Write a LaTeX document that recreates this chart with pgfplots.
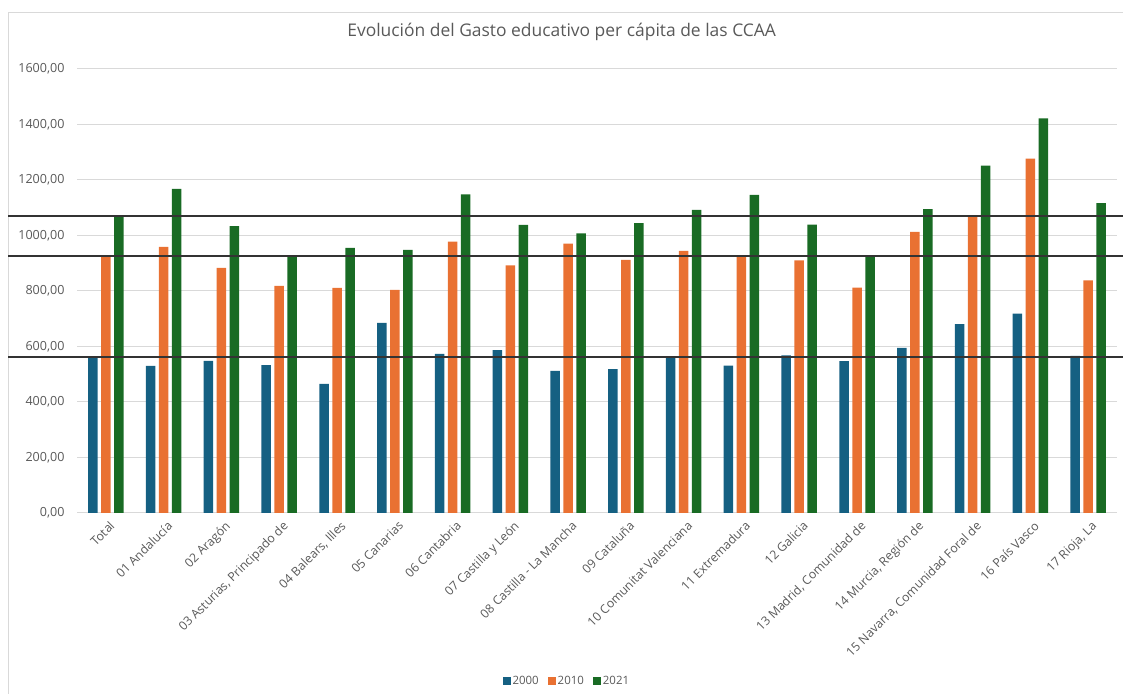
\documentclass[border=0pt]{standalone}
\usepackage{pgfplots}
\pgfplotsset{compat=1.18}
\usepackage{fontspec}
\setmainfont{Open Sans}

\definecolor{c2000}{HTML}{156082}
\definecolor{c2010}{HTML}{E97132}
\definecolor{c2021}{HTML}{196B24}
\definecolor{txt}{HTML}{595959}
\definecolor{grd}{HTML}{D9D9D9}

\begin{document}
\begin{tikzpicture}[x=1bp,y=1bp]
\path[use as bounding box] (0,0) rectangle (1123,694);
\draw[grd, line width=1bp] (8,0) -- (8,681) -- (1123,681);
\begin{axis}[
    at={(77bp,181bp)}, anchor=south west,
    scale only axis, width=1040bp, height=444bp,
    ybar=3.5bp, bar width=9.5bp,
    ymin=0, ymax=1600,
    ytick={0,200,...,1600},
    xmin=-0.5, xmax=17.5,
    xtick={0,...,17},
    xticklabels={Total, 01 Andalucía, 02 Aragón, {03 Asturias, Principado de}, {04 Balears, Illes}, 05 Canarias, 06 Cantabria, 07 Castilla y León, 08 Castilla - La Mancha, 09 Cataluña, 10 Comunitat Valenciana, 11 Extremadura, 12 Galicia, {13 Madrid, Comunidad de}, {14 Murcia, Región de}, {15 Navarra, Comunidad Foral de}, 16 País Vasco, {17 Rioja, La}},
    xticklabel style={rotate=45, anchor=north east, font=\fontsize{12.3}{14}\selectfont, text=txt, inner sep=1bp, xshift=1bp, yshift=-3bp},
    yticklabel style={font=\fontsize{12.6}{14}\selectfont, text=txt, xshift=-9bp},
    /pgf/number format/.cd, fixed, fixed zerofill, precision=2, use comma, 1000 sep={}, assume math mode=true,
    /pgfplots/.cd,
    ymajorgrids, grid style={grd, line width=1bp},
    axis line style={draw=none}, tick style={draw=none},
    clip=false,
    title={Evolución del Gasto educativo per cápita de las CCAA},
    title style={at={(0.466,1)}, anchor=center, yshift=31bp, font=\fontsize{17.5}{20}\selectfont, text=txt},
    legend style={at={(0.471,-0.378)}, anchor=center, draw=none, fill=none, legend columns=3,
        font=\fontsize{11.5}{13}\selectfont, text=txt,
        /tikz/every even column/.append style={column sep=7bp}},
    legend image code/.code={\fill (0bp,-4bp) rectangle (8bp,4bp);},
]
\addplot[fill=c2000, draw=none] coordinates {
(0,562) (1,530) (2,548) (3,533) (4,465) (5,685) (6,573) (7,587) (8,512) (9,518)
(10,563) (11,531) (12,568) (13,547) (14,595) (15,681) (16,718) (17,566)};
\addplot[fill=c2010, draw=none] coordinates {
(0,926) (1,959) (2,883) (3,818) (4,811) (5,804) (6,978) (7,892) (8,971) (9,912)
(10,945) (11,926) (12,910) (13,812) (14,1013) (15,1067) (16,1277) (17,838)};
\addplot[fill=c2021, draw=none] coordinates {
(0,1070) (1,1168) (2,1034) (3,926) (4,955) (5,948) (6,1148) (7,1038) (8,1008) (9,1045)
(10,1092) (11,1146) (12,1039) (13,928) (14,1095) (15,1252) (16,1422) (17,1117)};
\legend{2000,2010,2021}
\addplot[sharp plot, black!80, line width=1.2bp, forget plot] coordinates {(-1.69,1070) (17.6,1070)};
\addplot[sharp plot, black!80, line width=1.2bp, forget plot] coordinates {(-1.69,926) (17.6,926)};
\addplot[sharp plot, black!80, line width=1.2bp, forget plot] coordinates {(-1.69,562) (17.6,562)};
\end{axis}
\end{tikzpicture}
\end{document}
